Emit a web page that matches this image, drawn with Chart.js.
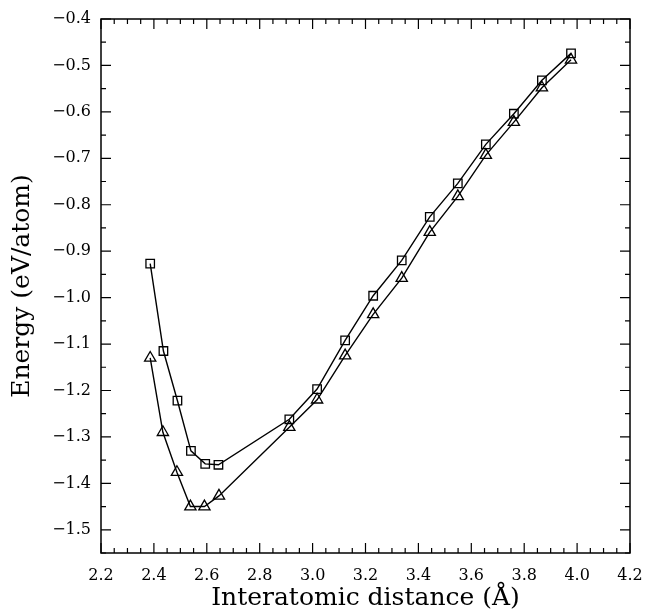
<!DOCTYPE html>
<html>
<head>
<meta charset="utf-8">
<script src="https://cdn.jsdelivr.net/npm/chart.js@4.4.1/dist/chart.umd.min.js"></script>
<style>
    html, body { margin: 0; padding: 0; background: #fff; }
    #wrap { width: 645px; height: 615px; }
</style>
</head>
<body>
<div id="wrap"><canvas id="energyChart" width="645" height="615"></canvas></div>
<script>
// values
const distSquare = [2.386, 2.436, 2.489, 2.540, 2.594, 2.644, 2.912, 3.017, 3.123, 3.229, 3.337, 3.443, 3.549, 3.655, 3.761, 3.867, 3.977];
const energySquare = [-0.927, -1.115, -1.222, -1.330, -1.358, -1.360, -1.262, -1.197, -1.092, -0.996, -0.920, -0.826, -0.754, -0.670, -0.604, -0.532, -0.474];
const distTriangle = [2.386, 2.434, 2.487, 2.538, 2.591, 2.646, 2.912, 3.017, 3.123, 3.229, 3.337, 3.443, 3.549, 3.655, 3.761, 3.867, 3.977];
const energyTriangle = [-1.130, -1.290, -1.376, -1.450, -1.450, -1.427, -1.279, -1.220, -1.125, -1.036, -0.958, -0.859, -0.782, -0.693, -0.622, -0.548, -0.488];

const xTicks = [2.2, 2.4, 2.6, 2.8, 3.0, 3.2, 3.4, 3.6, 3.8, 4.0, 4.2];
const yTicks = [-1.5, -1.4, -1.3, -1.2, -1.1, -1.0, -0.9, -0.8, -0.7, -0.6, -0.5, -0.4];

const serif = '"DejaVu Serif", "Liberation Serif", serif';

function toPoints(xs, ys) {
    return xs.map((x, i) => ({ x: x, y: ys[i] }));
}

// frame with inward ticks on all four sides
const frameTicks = {
    id: 'frameTicks',
    afterDatasetsDraw(chart) {
        const { ctx, chartArea: a, scales: { x, y } } = chart;
        ctx.save();
        ctx.strokeStyle = '#000';
        ctx.lineWidth = 1.5;
        ctx.strokeRect(a.left, a.top, a.right - a.left, a.bottom - a.top);
        ctx.lineWidth = 1.2;
        ctx.beginPath();
        for (let k = 0; k <= 40; k++) {
            const px = x.getPixelForValue(2.2 + k * 0.05);
            const len = k % 4 === 0 ? 10 : 5;
            ctx.moveTo(px, a.bottom); ctx.lineTo(px, a.bottom - len);
            ctx.moveTo(px, a.top); ctx.lineTo(px, a.top + len);
        }
        for (let k = 0; k <= 23; k++) {
            const py = y.getPixelForValue(-1.55 + k * 0.05);
            const len = k % 2 === 1 ? 10 : 5;
            ctx.moveTo(a.left, py); ctx.lineTo(a.left + len, py);
            ctx.moveTo(a.right, py); ctx.lineTo(a.right - len, py);
        }
        ctx.stroke();
        ctx.restore();
    }
};

const common = {
    borderColor: '#000',
    backgroundColor: 'rgba(0,0,0,0)',
    pointBorderColor: '#000',
    pointBackgroundColor: 'rgba(0,0,0,0)',
    borderWidth: 1.4,
    pointBorderWidth: 1.3,
    tension: 0,
    showLine: true
};

new Chart(document.getElementById('energyChart').getContext('2d'), {
    type: 'scatter',
    data: {
        datasets: [
            Object.assign({
                label: 'square',
                data: toPoints(distSquare, energySquare),
                pointStyle: 'rect',
                pointRadius: 6
            }, common),
            Object.assign({
                label: 'triangle',
                data: toPoints(distTriangle, energyTriangle),
                pointStyle: 'triangle',
                pointRadius: 6.5
            }, common)
        ]
    },
    options: {
        responsive: false,
        animation: false,
        layout: { padding: { left: 0, top: 19, right: 15, bottom: 0 } },
        plugins: {
            legend: { display: false },
            tooltip: { enabled: false }
        },
        scales: {
            x: {
                type: 'linear',
                min: 2.2,
                max: 4.2,
                afterBuildTicks: s => { s.ticks = xTicks.map(v => ({ value: v })); },
                afterFit: s => { s.height = 62; s.paddingLeft = 0; s.paddingRight = 0; },
                grid: { display: false, drawTicks: false },
                border: { display: false },
                ticks: {
                    color: '#000',
                    padding: 13,
                    maxRotation: 0,
                    font: { family: serif, size: 16 },
                    callback: v => v.toFixed(1)
                },
                title: {
                    display: true,
                    text: 'Interatomic distance (Å)',
                    color: '#000',
                    font: { family: serif, size: 25 },
                    padding: { top: 0, bottom: 2 }
                }
            },
            y: {
                type: 'linear',
                min: -1.55,
                max: -0.4,
                afterBuildTicks: s => { s.ticks = yTicks.map(v => ({ value: v })); },
                afterFit: s => { s.width = 101; s.paddingTop = 0; s.paddingBottom = 0; },
                grid: { display: false, drawTicks: false },
                border: { display: false },
                ticks: {
                    color: '#000',
                    padding: 10,
                    font: { family: serif, size: 16 },
                    callback: v => (v < 0 ? '\u2212' : '') + Math.abs(v).toFixed(1)
                },
                title: {
                    display: true,
                    text: 'Energy (eV/atom)',
                    color: '#000',
                    font: { family: serif, size: 25 },
                    padding: { top: 7, bottom: 0 }
                }
            }
        }
    },
    plugins: [frameTicks]
});
</script>
</body>
</html>
